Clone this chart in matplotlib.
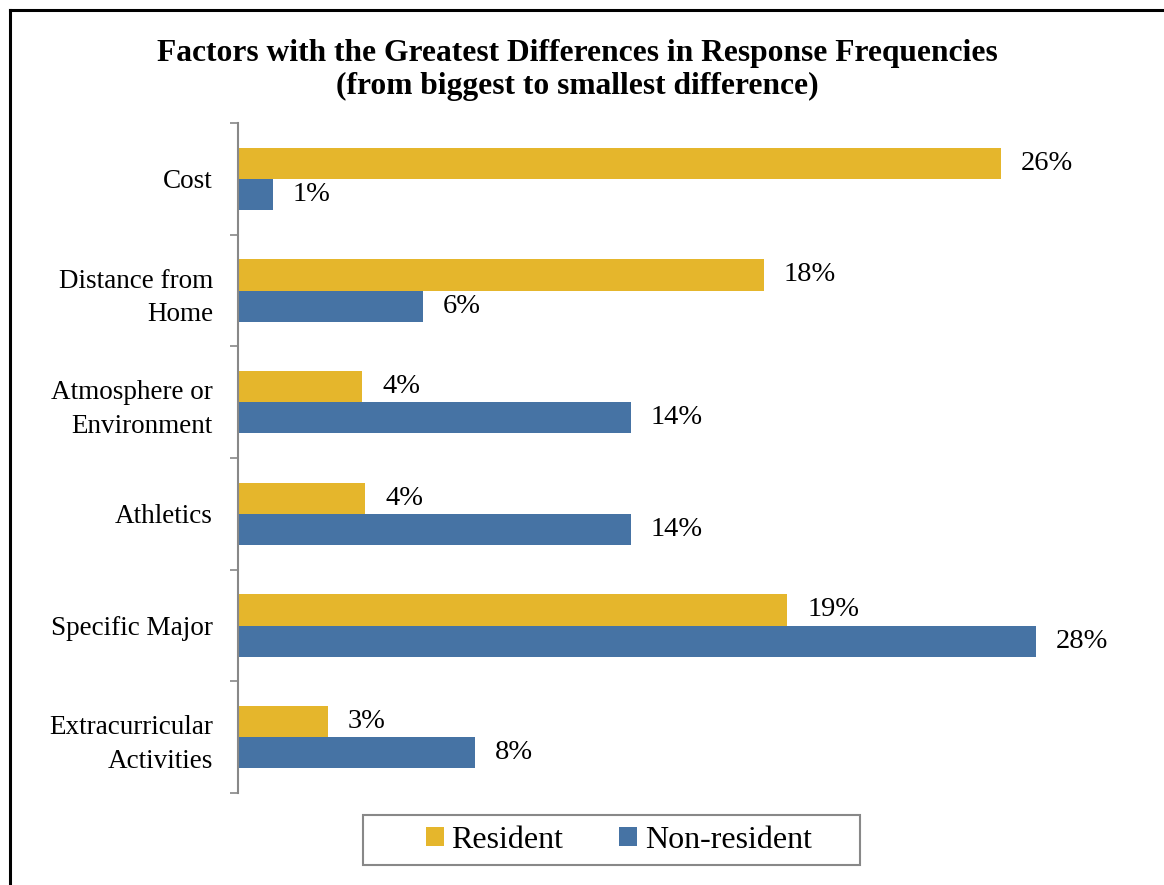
import numpy as np
import matplotlib.pyplot as plt
from matplotlib.lines import Line2D
from matplotlib.patches import Rectangle

categories = ["Cost", "Distance from\nHome", "Atmosphere or\nEnvironment",
              "Athletics", "Specific Major", "Extracurricular\nActivities"]
resident = [26.4, 18.2, 4.3, 4.4, 19.0, 3.1]
nonresident = [1.2, 6.4, 13.6, 13.6, 27.6, 8.2]
resident_labels = ["26%", "18%", "4%", "4%", "19%", "3%"]
nonresident_labels = ["1%", "6%", "14%", "14%", "28%", "8%"]

yellow = "#E5B62C"
blue = "#4673A4"
gray = "#888888"

plt.rcParams['font.family'] = ['Liberation Serif', 'DejaVu Serif']

fig = plt.figure(figsize=(11.64, 8.85), dpi=100)
ax = fig.add_axes([238/1164, 1-793/885, 867/1164, 670/885])

y = np.arange(len(categories))
h = 0.28
ax.barh(y - h/2, resident, height=h, color=yellow, label="Resident")
ax.barh(y + h/2, nonresident, height=h, color=blue, label="Non-resident")

for i in range(len(categories)):
    ax.annotate(resident_labels[i], (resident[i], y[i] - h/2), xytext=(20, 0),
                textcoords="offset pixels", va="center", ha="left", fontsize=20.5)
    ax.annotate(nonresident_labels[i], (nonresident[i], y[i] + h/2), xytext=(20, 0),
                textcoords="offset pixels", va="center", ha="left", fontsize=20.5)

ax.set_xlim(0, 30)
ax.set_ylim(len(categories) - 0.5, -0.5)
ax.set_xticks([])
ax.set_yticks(y)
ax.set_yticklabels(categories, fontsize=19.5, linespacing=1.45)
ax.set_yticks(np.arange(-0.5, len(categories)), minor=True)
ax.tick_params(axis="y", which="major", length=0, pad=18)
ax.tick_params(axis="y", which="minor", length=6, width=1.2, color=gray, direction="out")
for s in ["top", "right", "bottom"]:
    ax.spines[s].set_visible(False)
ax.spines["left"].set_color(gray)
ax.spines["left"].set_linewidth(1.5)

fig.text(0.496, 1-70/885, "Factors with the Greatest Differences in Response Frequencies\n(from biggest to smallest difference)",
         ha="center", va="center", fontsize=22.7, fontweight="bold", linespacing=1.2)

leg = fig.legend(loc="center", bbox_to_anchor=(619/1164, 1-840/885), ncol=2, fontsize=23,
                 frameon=False, handlelength=0.55, handleheight=0.55, handletextpad=0.25,
                 columnspacing=1.75, borderpad=0, borderaxespad=0)

# legend frame
fig.add_artist(Rectangle((363/1164, 1-865/885), 497/1164, 50/885, transform=fig.transFigure,
                         facecolor="none", edgecolor=gray, lw=1.5))

# outer border (only top and left visible in the crop)
fig.add_artist(Line2D([9.5/1164, 1], [1-9.5/885, 1-9.5/885], color="black", lw=2.2,
                      transform=fig.transFigure))
fig.add_artist(Line2D([9.5/1164, 9.5/1164], [0, 1-9.5/885], color="black", lw=2.2,
                      transform=fig.transFigure))

fig.savefig("out.png", dpi=100)
